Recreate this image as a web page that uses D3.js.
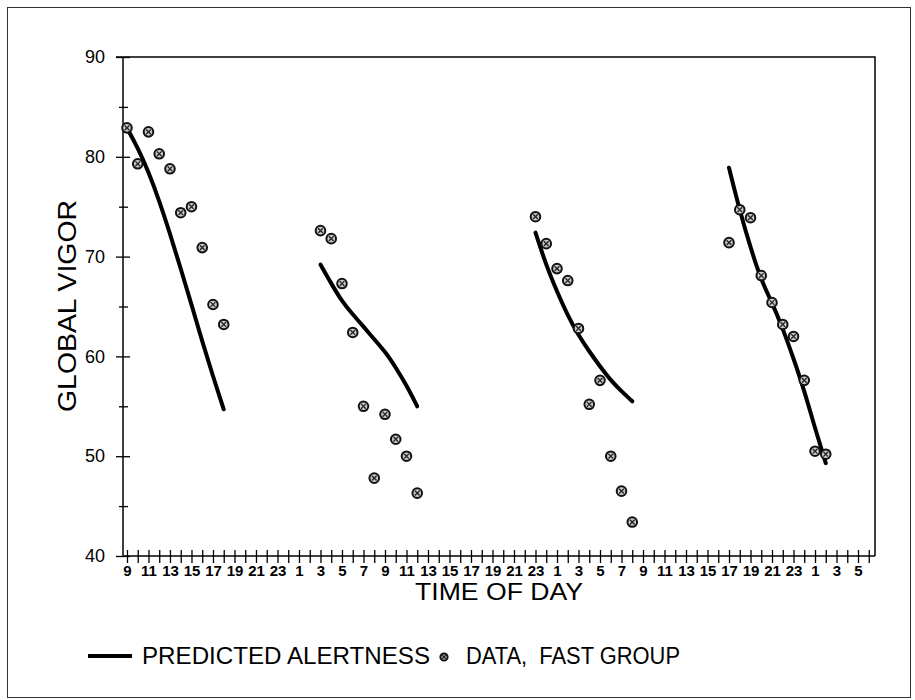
<!DOCTYPE html>
<html lang="en">
<head>
    <meta charset="UTF-8">
    <title>Global Vigor</title>
    <script src="https://d3js.org/d3.v7.min.js"></script>
    <style>
        body { margin: 0; background: #fff; }
        svg { display: block; font-family: "Liberation Sans", Arial, sans-serif; }
    </style>
</head>
<body>
    <svg width="915" height="700"></svg>
    <script>
        // hours are counted from 0h of day 1 (so 33 = 9h of day 2)
        const segStart = [9, 27, 47, 65];

        // predicted alertness, one value per hour from segStart
        const predicted = [
            [82.9, 80.9, 78.5, 75.6, 72.3, 68.8, 65.2, 61.5, 58.0, 54.7],
            [69.2, 67.3, 65.5, 64.2, 63.0, 61.7, 60.5, 58.9, 57.1, 55.0],
            [72.4, 69.1, 66.5, 64.1, 62.1, 60.5, 59.0, 57.6, 56.5, 55.5],
            [78.9, 74.6, 70.9, 67.6, 65.4, 62.8, 59.8, 56.6, 52.8, 49.3]
        ];

        // data, fast group
        const observed = [
            [82.9, 79.3, 82.5, 80.3, 78.8, 74.4, 75.0, 70.9, 65.2, 63.2],
            [72.6, 71.8, 67.3, 62.4, 55.0, 47.8, 54.2, 51.7, 50.0, 46.3],
            [74.0, 71.3, 68.8, 67.6, 62.8, 55.2, 57.6, 50.0, 46.5, 43.4],
            [71.4, 74.7, 73.9, 68.1, 65.4, 63.2, 62.0, 57.6, 50.5, 50.2]
        ];

        const hourTicks = d3.range(9, 79);
        const vigorTicks = [40, 50, 60, 70, 80, 90];

        const svg = d3.select("svg");
        const mLeft = 123, mRight = 875, mTop = 57, mBottom = 556;

        const x = d3.scaleLinear().domain([8.63, 78.58]).range([mLeft, mRight]);
        const y = d3.scaleLinear().domain([40, 90]).range([mBottom, mTop]);

        // outer border
        svg.append("rect")
            .attr("x", 7.5).attr("y", 7.5)
            .attr("width", 903).attr("height", 690)
            .attr("fill", "none")
            .attr("stroke", "#333")
            .attr("stroke-width", 1);

        // frame top / right
        svg.append("path")
            .attr("d", `M${mLeft - 7},${mTop}H${mRight}V${mBottom}`)
            .attr("fill", "none")
            .attr("stroke", "#000")
            .attr("stroke-width", 1.5);

        // x axis
        const xAxis = svg.append("g")
            .attr("transform", `translate(0,${mBottom})`)
            .call(d3.axisBottom(x)
                .tickValues(hourTicks)
                .tickSize(7)
                .tickPadding(2)
                .tickFormat(h => (h % 24) % 2 === 1 ? String(h % 24) : ""));
        xAxis.select(".domain").attr("d", `M${mLeft},0H${mRight}`).attr("stroke-width", 1.5);
        xAxis.selectAll(".tick line").attr("y1", -6).attr("stroke-width", 1.3);
        xAxis.selectAll(".tick text")
            .attr("font-size", 15)
            .attr("font-weight", "bold")
            .attr("font-family", "Liberation Sans, Arial, sans-serif")
            .attr("fill", "#000");

        // y axis
        const yAxis = svg.append("g")
            .attr("transform", `translate(${mLeft},0)`)
            .call(d3.axisLeft(y)
                .ticks(10)
                .tickSize(7)
                .tickPadding(11)
                .tickFormat(v => vigorTicks.includes(v) ? v : ""));
        yAxis.select(".domain").attr("d", `M0,${mTop}V${mBottom}`).attr("stroke-width", 1.5);
        yAxis.selectAll(".tick line")
            .attr("x1", d => vigorTicks.includes(d) ? 7 : 5)
            .attr("x2", d => vigorTicks.includes(d) ? -7 : -4)
            .attr("stroke-width", 1.3);
        yAxis.selectAll(".tick text")
            .attr("font-size", 18)
            .attr("font-family", "Liberation Sans, Arial, sans-serif")
            .attr("fill", "#000");

        // axis titles
        svg.append("text")
            .attr("x", 415).attr("y", 600)
            .attr("font-size", 24)
            .attr("textLength", 168)
            .attr("lengthAdjust", "spacingAndGlyphs")
            .text("TIME OF DAY");

        svg.append("text")
            .attr("transform", "translate(76,412) rotate(-90)")
            .attr("font-size", 25)
            .attr("textLength", 212)
            .attr("lengthAdjust", "spacingAndGlyphs")
            .text("GLOBAL VIGOR");

        // predicted alertness curves
        const line = d3.line()
            .x(d => x(d[0]))
            .y(d => y(d[1]))
            .curve(d3.curveBasis);

        predicted.forEach((vals, i) => {
            const pts = vals.map((v, j) => [segStart[i] + j, v]);
            svg.append("path")
                .datum(pts)
                .attr("d", line)
                .attr("fill", "none")
                .attr("stroke", "#000")
                .attr("stroke-width", 4)
                .attr("stroke-linecap", "round");
        });

        // data marker
        function marker(g, cx, cy, r) {
            g.append("circle")
                .attr("cx", cx).attr("cy", cy).attr("r", r)
                .attr("fill", "#c8c8c8")
                .attr("stroke", "#111")
                .attr("stroke-width", 2);
            g.append("path")
                .attr("d", `M${cx - r * 0.5},${cy - r * 0.5}L${cx + r * 0.5},${cy + r * 0.5}M${cx + r * 0.5},${cy - r * 0.5}L${cx - r * 0.5},${cy + r * 0.5}`)
                .attr("stroke", "#222")
                .attr("stroke-width", 1.3);
        }

        const dots = svg.append("g");
        observed.forEach((vals, i) => {
            vals.forEach((v, j) => marker(dots, x(segStart[i] + j), y(v), 4.8));
        });

        // legend
        const legend = svg.append("g");
        legend.append("line")
            .attr("x1", 88).attr("x2", 132)
            .attr("y1", 656).attr("y2", 656)
            .attr("stroke", "#000")
            .attr("stroke-width", 4);
        legend.append("text")
            .attr("x", 142).attr("y", 664)
            .attr("font-size", 23)
            .attr("textLength", 288)
            .attr("lengthAdjust", "spacingAndGlyphs")
            .text("PREDICTED ALERTNESS");
        marker(legend, 444, 657, 3.6);
        legend.append("text")
            .attr("x", 466).attr("y", 664)
            .attr("font-size", 23)
            .attr("xml:space", "preserve")
            .attr("textLength", 214)
            .attr("lengthAdjust", "spacingAndGlyphs")
            .text("DATA,  FAST GROUP");
    </script>
</body>
</html>
